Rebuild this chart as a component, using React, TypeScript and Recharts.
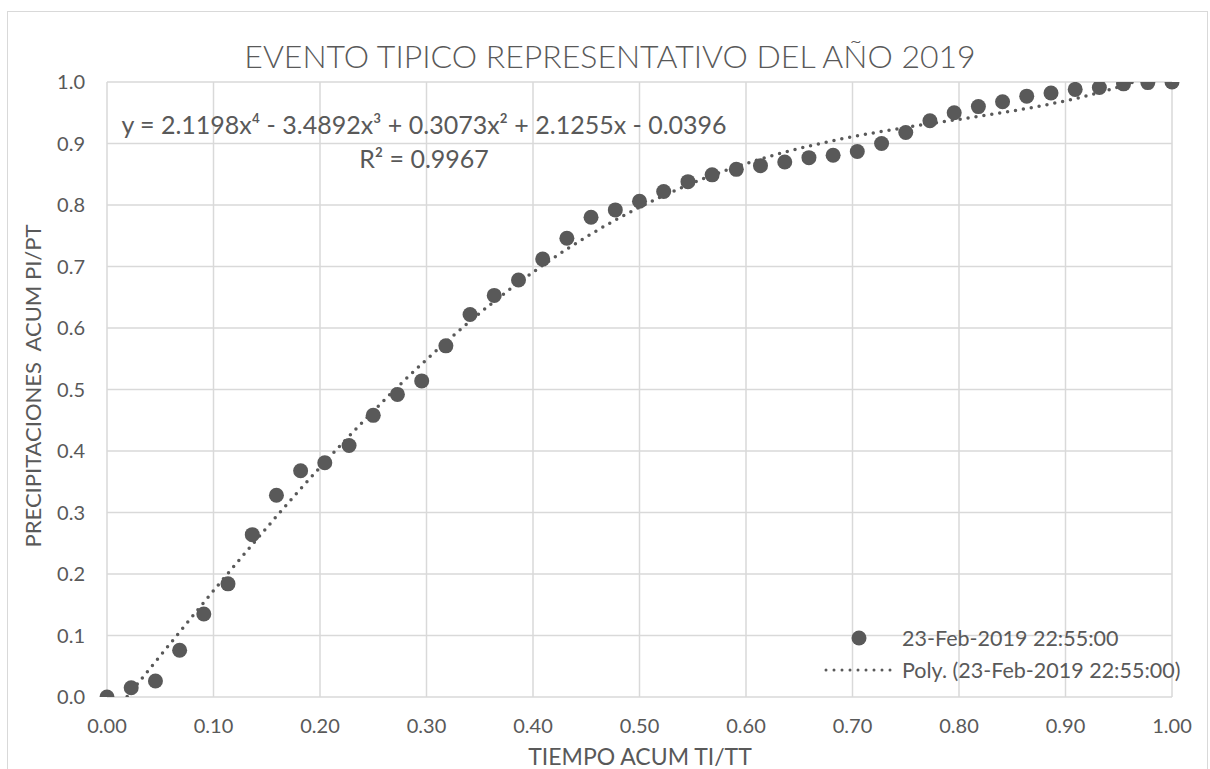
import React from 'react';
import { ComposedChart, Scatter, Line, XAxis, YAxis, CartesianGrid } from 'recharts';

// tiempo acumulado ti/tt
const tiempo = [
  0, 0.0227, 0.0455, 0.0682, 0.0909, 0.1136, 0.1364, 0.1591, 0.1818, 0.2045,
  0.2273, 0.25, 0.2727, 0.2955, 0.3182, 0.3409, 0.3636, 0.3864, 0.4091, 0.4318,
  0.4545, 0.4773, 0.5, 0.5227, 0.5455, 0.5682, 0.5909, 0.6136, 0.6364, 0.6591,
  0.6818, 0.7045, 0.7273, 0.75, 0.7727, 0.7955, 0.8182, 0.8409, 0.8636, 0.8864,
  0.9091, 0.9318, 0.9545, 0.9773, 1,
];

// precipitacion acumulada pi/pt (23-Feb-2019 22:55:00)
const precip = [
  0, 0.015, 0.026, 0.076, 0.135, 0.184, 0.264, 0.328, 0.368, 0.381,
  0.409, 0.458, 0.492, 0.514, 0.571, 0.622, 0.653, 0.678, 0.712, 0.746,
  0.78, 0.792, 0.806, 0.822, 0.838, 0.849, 0.858, 0.864, 0.87, 0.877,
  0.881, 0.887, 0.9, 0.918, 0.937, 0.95, 0.96, 0.968, 0.977, 0.982,
  0.988, 0.991, 0.997, 0.999, 1,
];

const tendencia = [
  -0.0396, 0.0088, 0.0573, 0.1057, 0.1537, 0.2011, 0.2478, 0.2936, 0.3384, 0.3819,
  0.424, 0.4647, 0.5039, 0.5414, 0.5771, 0.6111, 0.6432, 0.6735, 0.7018, 0.7283,
  0.7528, 0.7755, 0.7963, 0.8153, 0.8326, 0.8482, 0.8622, 0.8747, 0.8859, 0.8958,
  0.9046, 0.9125, 0.9196, 0.9261, 0.9322, 0.9381, 0.944, 0.9502, 0.9569, 0.9645,
  0.973, 0.9829, 0.9945, 1.008, 1.0238,
];

const xTicks = [0, 0.1, 0.2, 0.3, 0.4, 0.5, 0.6, 0.7, 0.8, 0.9, 1];
const yTicks = [0, 0.1, 0.2, 0.3, 0.4, 0.5, 0.6, 0.7, 0.8, 0.9, 1];

const serieName = '23-Feb-2019 22:55:00';
const ecuacion = 'y = 2.1198x⁴ - 3.4892x³ + 0.3073x² + 2.1255x - 0.0396';
const r2 = 'R² = 0.9967';

const data = tiempo.map((x, i) => ({ x, p: precip[i], t: tendencia[i] }));

const GRAY = '#595959';
const GRID = '#d9d9d9';
const FONT = 'Lato, "Noto Sans", sans-serif';

const abs = (left: number, top: number, extra: React.CSSProperties = {}): React.CSSProperties => ({
  position: 'absolute',
  left,
  top,
  transform: 'translate(-50%, -50%)',
  whiteSpace: 'nowrap',
  color: GRAY,
  fontFamily: FONT,
  ...extra,
});

export default function App() {
  return (
    <div style={{ position: 'absolute', left: 0, top: 0, width: 1210, height: 769, overflow: 'hidden', background: '#fff' }}>
      <div style={{ position: 'absolute', left: 7, top: 11, width: 1199, height: 758, border: `1px solid ${GRID}`, borderBottom: 'none' }} />

      <div style={{ position: 'absolute', left: 8, top: 12 }}>
        <ComposedChart width={1199} height={757} data={data} margin={{ top: 70, right: 35, bottom: 20, left: 39 }}>
          <CartesianGrid stroke={GRID} strokeWidth={1.5} />
          <XAxis
            type="number"
            dataKey="x"
            domain={[0, 1]}
            ticks={xTicks}
            tickFormatter={(v: number) => v.toFixed(2)}
            axisLine={false}
            tickLine={false}
            tickMargin={16}
            height={52}
            tick={{ fill: GRAY, fontSize: 20, fontFamily: FONT }}
          />
          <YAxis
            type="number"
            domain={[0, 1]}
            ticks={yTicks}
            allowDataOverflow
            tickFormatter={(v: number) => v.toFixed(1)}
            axisLine={false}
            tickLine={false}
            tickMargin={16}
            width={60}
            tick={{ fill: GRAY, fontSize: 20, fontFamily: FONT }}
          />
          <Scatter
            dataKey="p"
            isAnimationActive={false}
            shape={(props: any) => <circle cx={props.cx} cy={props.cy} r={7.5} fill={GRAY} />}
          />
          <Line
            dataKey="t"
            type="monotone"
            stroke={GRAY}
            strokeWidth={3.5}
            strokeDasharray="0 8"
            strokeLinecap="round"
            dot={false}
            activeDot={false}
            isAnimationActive={false}
          />
        </ComposedChart>
      </div>

      <div style={abs(610, 55, { fontSize: 32, fontWeight: 300 })}>EVENTO TIPICO REPRESENTATIVO DEL AÑO 2019</div>
      <div style={abs(424, 124, { fontSize: 25 })}>{ecuacion}</div>
      <div style={abs(424, 158, { fontSize: 25 })}>{r2}</div>
      <div style={abs(640, 756, { fontSize: 23 })}>TIEMPO ACUM TI/TT</div>
      <div style={abs(32, 386, { fontSize: 22, transform: 'translate(-50%, -50%) rotate(-90deg)' })}>
        PRECIPITACIONES&nbsp; ACUM PI/PT
      </div>

      {/* leyenda */}
      <svg style={{ position: 'absolute', left: 0, top: 0 }} width={1210} height={769} pointerEvents="none">
        <circle cx={859} cy={638} r={7.5} fill={GRAY} />
        <line x1={826} y1={670} x2={893} y2={670} stroke={GRAY} strokeWidth={3} strokeDasharray="0 8" strokeLinecap="round" />
      </svg>
      <div style={abs(902, 638, { fontSize: 21.5, transform: 'translate(0, -50%)' })}>{serieName}</div>
      <div style={abs(902, 670, { fontSize: 21.5, transform: 'translate(0, -50%)' })}>Poly. ({serieName})</div>
    </div>
  );
}
